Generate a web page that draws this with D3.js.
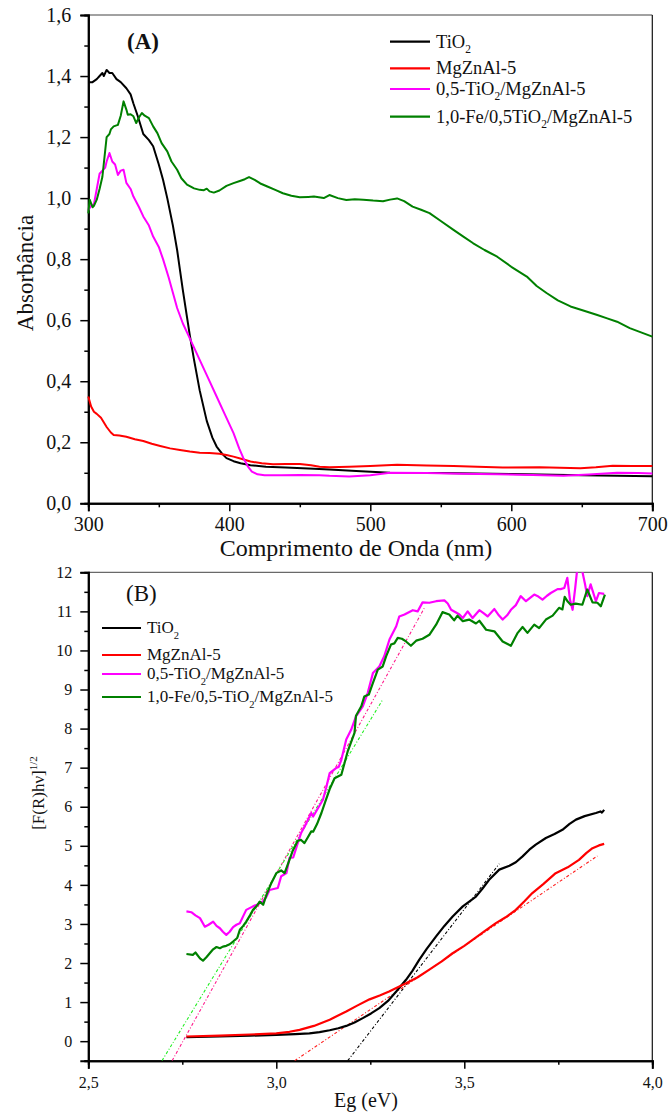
<!DOCTYPE html>
<html>
<head>
<meta charset="utf-8">
<script src="https://cdn.jsdelivr.net/npm/d3@7"></script>
<style>
  html, body { margin: 0; padding: 0; background: #fff; }
  svg text { font-family: "Liberation Serif", Tinos, "Times New Roman", "DejaVu Serif", serif; fill: #111; }
</style>
</head>
<body>
<svg id="fig" width="670" height="1113"></svg>
<script>
// ---------- Panel A: UV-Vis absorbance spectra ----------
const absTiO2 = [[300,1.38],[303,1.38],[306,1.39],[308,1.40],[310,1.41],[311,1.40],[313,1.42],[315,1.41],[317,1.41],[320,1.39],[323,1.38],[327,1.36],[330,1.34],[332,1.31],[335,1.27],[339,1.21],[343,1.19],[346,1.17],[350,1.11],[353,1.06],[356,1.00],[360,0.91],[363,0.83],[365,0.765],[367,0.70],[370,0.61],[372,0.55],[375,0.47],[379,0.37],[384,0.27],[388,0.215],[391,0.186],[395,0.162],[398,0.148],[403,0.138],[408,0.131],[415,0.125],[426,0.12],[440,0.117],[460,0.113],[471,0.111],[490,0.106],[514,0.10],[550,0.099],[601,0.096],[650,0.092],[700,0.089]];
const absMgZnAl = [[300,0.35],[302,0.317],[304,0.30],[306,0.293],[309,0.28],[313,0.25],[316,0.232],[318,0.224],[322,0.222],[327,0.218],[333,0.21],[339,0.204],[345,0.195],[351,0.188],[358,0.18],[365,0.175],[372,0.17],[379,0.166],[386,0.165],[393,0.162],[398,0.158],[403,0.153],[409,0.145],[415,0.137],[423,0.131],[431,0.128],[440,0.129],[450,0.129],[458,0.125],[464,0.12],[471,0.118],[485,0.12],[500,0.122],[519,0.126],[540,0.124],[559,0.122],[576,0.12],[594,0.117],[620,0.118],[649,0.115],[660,0.118],[672,0.123],[686,0.122],[700,0.122]];
const absTiO2Mg = [[300,0.96],[302,0.975],[304,0.98],[306,1.03],[308,1.08],[310,1.09],[312,1.10],[313,1.12],[315,1.148],[317,1.12],[319,1.11],[321,1.076],[323,1.09],[325,1.093],[327,1.05],[330,1.03],[332,1.005],[336,0.97],[339,0.94],[343,0.91],[346,0.874],[350,0.84],[353,0.80],[357,0.74],[360,0.69],[363,0.64],[367,0.59],[371,0.55],[375,0.51],[379,0.47],[385,0.41],[391,0.35],[397,0.29],[403,0.23],[407,0.18],[410,0.148],[413,0.122],[416,0.104],[420,0.095],[425,0.092],[437,0.092],[450,0.093],[464,0.092],[471,0.09],[485,0.088],[500,0.092],[514,0.10],[540,0.099],[565,0.097],[590,0.095],[615,0.093],[637,0.09],[655,0.094],[675,0.10],[690,0.099],[700,0.098]];
const absFeTiO2Mg = [[300,0.95],[301,0.995],[303,0.97],[304,0.975],[306,0.995],[308,1.03],[310,1.07],[313,1.20],[315,1.21],[316,1.225],[318,1.235],[321,1.24],[323,1.27],[325,1.317],[327,1.29],[328,1.273],[330,1.275],[332,1.268],[334,1.246],[336,1.265],[338,1.279],[340,1.27],[343,1.262],[346,1.235],[349,1.213],[352,1.18],[356,1.153],[359,1.12],[363,1.093],[366,1.065],[370,1.044],[375,1.032],[379,1.027],[382,1.026],[384,1.031],[386,1.022],[389,1.018],[393,1.025],[398,1.04],[403,1.049],[408,1.057],[411,1.062],[414,1.069],[418,1.06],[422,1.048],[427,1.038],[433,1.026],[438,1.016],[444,1.008],[450,1.003],[456,1.004],[460,1.005],[467,1.0],[471,1.01],[477,1.0],[483,0.994],[489,0.996],[495,0.995],[502,0.992],[509,0.99],[514,0.995],[519,0.999],[524,0.99],[530,0.972],[536,0.962],[542,0.951],[550,0.925],[559,0.896],[566,0.874],[573,0.852],[581,0.83],[590,0.808],[600,0.775],[611,0.743],[618,0.712],[625,0.689],[633,0.665],[642,0.645],[651,0.632],[661,0.617],[668,0.606],[675,0.595],[684,0.574],[692,0.56],[700,0.546]];

const aSeries = [
  { name: "TiO2", color: "#000000", data: absTiO2 },
  { name: "MgZnAl-5", color: "#ff0000", data: absMgZnAl },
  { name: "0,5-TiO2/MgZnAl-5", color: "#ff00ff", data: absTiO2Mg },
  { name: "1,0-Fe/0,5TiO2/MgZnAl-5", color: "#008000", data: absFeTiO2Mg }
];
const aXTicks = [300, 400, 500, 600, 700];
const aYTicks = [0, 0.2, 0.4, 0.6, 0.8, 1.0, 1.2, 1.4, 1.6];
// legend entries: [main text, subscript, rest]
const aLegend = [["TiO", "2", ""], ["MgZnAl-5", "", ""], ["0,5-TiO", "2", "/MgZnAl-5"], ["1,0-Fe/0,5TiO", "2", "/MgZnAl-5"]];

// ---------- Panel B: Tauc plot ----------
const taucTiO2 = [[2.761,0.10],[2.85,0.12],[2.93,0.14],[3.0,0.16],[3.05,0.18],[3.088,0.20],[3.115,0.23],[3.142,0.28],[3.165,0.33],[3.186,0.39],[3.208,0.48],[3.23,0.59],[3.252,0.71],[3.274,0.845],[3.297,1.03],[3.319,1.27],[3.345,1.57],[3.362,1.80],[3.38,2.08],[3.40,2.36],[3.425,2.68],[3.447,2.95],[3.469,3.19],[3.496,3.45],[3.531,3.70],[3.548,3.90],[3.566,4.13],[3.593,4.39],[3.62,4.49],[3.637,4.58],[3.655,4.73],[3.673,4.90],[3.69,5.03],[3.717,5.20],[3.74,5.30],[3.761,5.41],[3.78,5.56],[3.797,5.67],[3.82,5.76],[3.85,5.84],[3.862,5.88],[3.866,5.85],[3.872,5.92]];
const taucMgZnAl = [[2.761,0.12],[2.85,0.14],[2.93,0.17],[3.0,0.20],[3.035,0.24],[3.062,0.29],[3.10,0.39],[3.142,0.55],[3.186,0.76],[3.215,0.91],[3.248,1.07],[3.275,1.17],[3.30,1.27],[3.345,1.48],[3.375,1.63],[3.407,1.83],[3.44,2.04],[3.469,2.25],[3.50,2.44],[3.522,2.59],[3.555,2.82],[3.584,3.02],[3.61,3.17],[3.637,3.36],[3.66,3.58],[3.681,3.79],[3.71,4.02],[3.743,4.30],[3.775,4.45],[3.805,4.64],[3.825,4.82],[3.841,4.94],[3.858,5.01],[3.872,5.05]];
const taucTiO2Mg = [[2.761,3.32],[2.774,3.30],[2.785,3.22],[2.797,3.15],[2.81,2.93],[2.82,2.98],[2.832,3.06],[2.841,2.95],[2.85,2.89],[2.858,2.80],[2.867,2.72],[2.876,2.80],[2.885,2.92],[2.894,2.98],[2.903,3.02],[2.912,3.20],[2.92,3.36],[2.938,3.45],[2.95,3.50],[2.965,3.58],[2.974,3.70],[2.982,3.87],[3.004,3.92],[3.013,4.22],[3.027,4.30],[3.035,4.69],[3.045,4.70],[3.057,5.07],[3.066,5.33],[3.08,5.58],[3.093,5.84],[3.098,5.75],[3.11,5.95],[3.124,6.18],[3.133,6.50],[3.142,6.86],[3.159,6.99],[3.166,7.02],[3.173,7.20],[3.186,7.72],[3.199,7.97],[3.212,8.31],[3.23,8.57],[3.243,8.91],[3.257,9.42],[3.274,9.59],[3.287,9.85],[3.301,10.28],[3.319,10.62],[3.327,10.87],[3.341,10.92],[3.363,11.03],[3.376,11.0],[3.389,11.23],[3.407,11.22],[3.425,11.26],[3.447,11.28],[3.456,11.20],[3.465,11.04],[3.478,10.97],[3.487,10.92],[3.496,10.83],[3.509,11.0],[3.522,10.83],[3.54,11.03],[3.552,10.95],[3.562,10.87],[3.58,11.06],[3.59,10.92],[3.602,10.79],[3.614,10.90],[3.624,11.04],[3.637,11.16],[3.65,11.39],[3.664,11.26],[3.686,11.43],[3.697,11.38],[3.708,11.30],[3.72,11.40],[3.73,11.47],[3.748,11.57],[3.756,11.57],[3.766,11.60],[3.774,11.86],[3.781,11.30],[3.788,11.04],[3.795,11.60],[3.80,12.05],[3.814,12.02],[3.821,11.70],[3.827,11.39],[3.836,11.69],[3.85,11.26],[3.858,11.47],[3.872,11.45]];
const taucFeTiO2Mg = [[2.761,2.23],[2.778,2.21],[2.785,2.27],[2.797,2.12],[2.805,2.06],[2.814,2.15],[2.823,2.25],[2.832,2.35],[2.841,2.41],[2.85,2.38],[2.858,2.42],[2.867,2.44],[2.876,2.48],[2.885,2.55],[2.896,2.64],[2.903,2.85],[2.912,2.95],[2.92,3.06],[2.93,3.22],[2.938,3.36],[2.947,3.45],[2.956,3.57],[2.965,3.49],[2.974,3.75],[2.987,4.05],[3.0,4.30],[3.013,4.37],[3.022,4.30],[3.035,4.64],[3.044,4.88],[3.057,5.13],[3.066,5.15],[3.075,5.07],[3.084,5.22],[3.093,5.37],[3.098,5.36],[3.108,5.55],[3.12,5.84],[3.131,6.15],[3.142,6.45],[3.155,6.73],[3.173,6.82],[3.19,7.42],[3.208,7.89],[3.212,8.33],[3.226,8.57],[3.234,8.82],[3.246,8.87],[3.257,9.17],[3.27,9.51],[3.283,9.59],[3.292,9.85],[3.305,10.15],[3.314,10.18],[3.323,10.32],[3.334,10.30],[3.345,10.23],[3.358,10.12],[3.372,10.25],[3.389,10.30],[3.407,10.40],[3.425,10.66],[3.442,10.98],[3.46,10.92],[3.473,10.77],[3.482,10.89],[3.496,10.75],[3.513,10.79],[3.531,10.69],[3.54,10.76],[3.558,10.53],[3.58,10.49],[3.602,10.23],[3.624,10.12],[3.642,10.45],[3.655,10.60],[3.668,10.45],[3.686,10.66],[3.699,10.57],[3.717,10.79],[3.735,10.89],[3.752,11.09],[3.761,11.05],[3.767,11.37],[3.775,11.25],[3.783,11.17],[3.796,11.20],[3.814,11.17],[3.827,11.56],[3.841,11.23],[3.854,11.22],[3.863,11.13],[3.874,11.43]];

const bSeries = [
  { color: "#000000", data: taucTiO2 },
  { color: "#ff0000", data: taucMgZnAl },
  { color: "#ff00ff", data: taucTiO2Mg },
  { color: "#008000", data: taucFeTiO2Mg }
];
// linear fits of the absorption edges, each as two end points
const fitTiO2 = [[3.19, -0.5], [3.593, 4.54]];
const fitMgZnAl = [[3.049, -0.5], [3.854, 4.74]];
const fitTiO2Mg = [[2.723, -0.5], [3.394, 11.09]];
const fitFeTiO2Mg = [[2.696, -0.5], [3.283, 8.74]];
const bFits = [
  { color: "#000000", data: fitTiO2 },
  { color: "#ff2020", data: fitMgZnAl },
  { color: "#ff1a8c", data: fitTiO2Mg },
  { color: "#22ee22", data: fitFeTiO2Mg }
];
const bXTicks = [2.5, 3.0, 3.5, 4.0];
const bYTicks = [0, 1, 2, 3, 4, 5, 6, 7, 8, 9, 10, 11, 12];
const bLegend = [["TiO", "2", ""], ["MgZnAl-5", "", ""], ["0,5-TiO", "2", "/MgZnAl-5"], ["1,0-Fe/0,5-TiO", "2", "/MgZnAl-5"]];

const SERIF = "'Liberation Serif', Tinos, 'Times New Roman', 'DejaVu Serif', serif";
const svg = d3.select("#fig").attr("font-family", SERIF);
const fmt = d3.format(".1f");
const comma = v => fmt(v).replace(".", ",");

function frame(g, x, y) {
  const [x0, x1] = x.range(), [y1, y0] = y.range();
  g.append("line").attr("x1", x0).attr("x2", x1).attr("y1", y0).attr("y2", y0)
    .attr("stroke", "#444").attr("stroke-width", 1);
  g.append("line").attr("x1", x1).attr("x2", x1).attr("y1", y0).attr("y2", y1)
    .attr("stroke", "#111").attr("stroke-width", 1.2);
}

function legend(g, items, colors, x0, lineLen, rows, size) {
  items.forEach((it, i) => {
    const yy = rows[i];
    g.append("line").attr("x1", x0).attr("x2", x0 + lineLen).attr("y1", yy).attr("y2", yy)
      .attr("stroke", colors[i]).attr("stroke-width", 2.2);
    const t = g.append("text").attr("x", x0 + lineLen + 6).attr("y", yy + size * 0.32)
      .attr("font-size", size).attr("font-family", SERIF);
    t.append("tspan").text(it[0]);
    if (it[1]) t.append("tspan").attr("font-size", size * 0.62).attr("dy", size * 0.3).text(it[1]);
    if (it[2]) t.append("tspan").attr("dy", -size * 0.3).text(it[2]);
  });
}

function styleAxis(sel, size) {
  sel.attr("font-family", SERIF);
  sel.selectAll("text").attr("font-size", size).attr("font-family", SERIF).attr("fill", "#111");
}

// ===== Panel A =====
{
  const x = d3.scaleLinear().domain([300, 700]).range([88.3, 652.3]);
  const y = d3.scaleLinear().domain([0, 1.6]).range([503.3, 15]);
  const g = svg.append("g");
  frame(g, x, y);

  const xAxis = g.append("g").attr("transform", `translate(0,${y(0)})`)
    .call(d3.axisBottom(x).tickValues(aXTicks).tickSize(8).tickPadding(6).tickFormat(d3.format("d")));
  g.append("g").attr("transform", `translate(0,${y(0)})`)
    .call(d3.axisBottom(x).tickValues([350, 450, 550, 650]).tickSize(4).tickFormat(""));
  const yAxis = g.append("g").attr("transform", `translate(${x(300)},0)`)
    .call(d3.axisLeft(y).tickValues(aYTicks).tickSize(8).tickPadding(9).tickFormat(comma));
  g.append("g").attr("transform", `translate(${x(300)},0)`)
    .call(d3.axisLeft(y).tickValues([0.1, 0.3, 0.5, 0.7, 0.9, 1.1, 1.3, 1.5]).tickSize(4).tickFormat(""));
  g.selectAll(".domain").attr("stroke", "#000").attr("stroke-width", 2);
  g.selectAll(".tick line").attr("stroke", "#000").attr("stroke-width", 1.5);
  styleAxis(xAxis, 20);
  styleAxis(yAxis, 20);

  const line = d3.line().x(d => x(d[0])).y(d => y(d[1]));
  g.selectAll("path.curve").data(aSeries).join("path").attr("class", "curve")
    .attr("d", d => line(d.data)).attr("fill", "none")
    .attr("stroke", d => d.color).attr("stroke-width", 2).attr("stroke-linejoin", "round");

  g.append("text").attr("x", 127).attr("y", 49).attr("font-size", 23).attr("font-weight", "bold").text("(A)");
  legend(g, aLegend, aSeries.map(s => s.color), 390, 40, [41.7, 68.3, 89, 116.7], 18.5);

  g.append("text").attr("x", 356).attr("y", 556).attr("text-anchor", "middle").attr("font-size", 24)
    .text("Comprimento de Onda (nm)");
  g.append("text").attr("transform", "translate(33,273) rotate(-90)").attr("text-anchor", "middle")
    .attr("font-size", 23).text("Absorbância");
}

// ===== Panel B =====
{
  const x = d3.scaleLinear().domain([2.5, 4.0]).range([88.3, 652.3]);
  const y = d3.scaleLinear().domain([-0.5, 12]).range([1060.7, 572.3]);
  const g = svg.append("g");
  svg.append("clipPath").attr("id", "clipB").append("rect")
    .attr("x", 88.3).attr("y", 572.3).attr("width", 564).attr("height", 488.4);
  frame(g, x, y);

  const xAxis = g.append("g").attr("transform", `translate(0,${y(-0.5)})`)
    .call(d3.axisBottom(x).tickValues(bXTicks).tickSize(8).tickPadding(8).tickFormat(comma));
  g.append("g").attr("transform", `translate(0,${y(-0.5)})`)
    .call(d3.axisBottom(x).tickValues([2.75, 3.25, 3.75]).tickSize(4).tickFormat(""));
  const yAxis = g.append("g").attr("transform", `translate(${x(2.5)},0)`)
    .call(d3.axisLeft(y).tickValues(bYTicks).tickSize(8).tickPadding(8).tickFormat(d3.format("d")));
  g.append("g").attr("transform", `translate(${x(2.5)},0)`)
    .call(d3.axisLeft(y).tickValues(d3.range(-0.5, 12, 1)).tickSize(4).tickFormat(""));
  g.selectAll(".domain").attr("stroke", "#000").attr("stroke-width", 2);
  g.selectAll(".tick line").attr("stroke", "#000").attr("stroke-width", 1.5);
  styleAxis(xAxis, 16);
  styleAxis(yAxis, 16);

  const line = d3.line().x(d => x(d[0])).y(d => y(d[1]));
  const plot = g.append("g").attr("clip-path", "url(#clipB)");
  plot.selectAll("path.fit").data(bFits).join("path").attr("class", "fit")
    .attr("d", d => line(d.data)).attr("fill", "none")
    .attr("stroke", d => d.color).attr("stroke-width", 1.1).attr("stroke-dasharray", "3,2,1,2");
  plot.selectAll("path.curve").data(bSeries).join("path").attr("class", "curve")
    .attr("d", d => line(d.data)).attr("fill", "none")
    .attr("stroke", d => d.color).attr("stroke-width", 2.2).attr("stroke-linejoin", "round");

  g.append("text").attr("x", 126).attr("y", 601).attr("font-size", 23).text("(B)");
  legend(g, bLegend, bSeries.map(s => s.color), 102, 39, [628, 655, 674, 697], 17);

  g.append("text").attr("x", 366).attr("y", 1107).attr("text-anchor", "middle").attr("font-size", 20)
    .text("Eg (eV)");
  const yl = g.append("text").attr("transform", "translate(44,793) rotate(-90)").attr("text-anchor", "middle")
    .attr("font-size", 17);
  yl.append("tspan").text("[F(R)hν]");
  yl.append("tspan").attr("font-size", 11).attr("dy", -7).text("1/2");
}
</script>
</body>
</html>
